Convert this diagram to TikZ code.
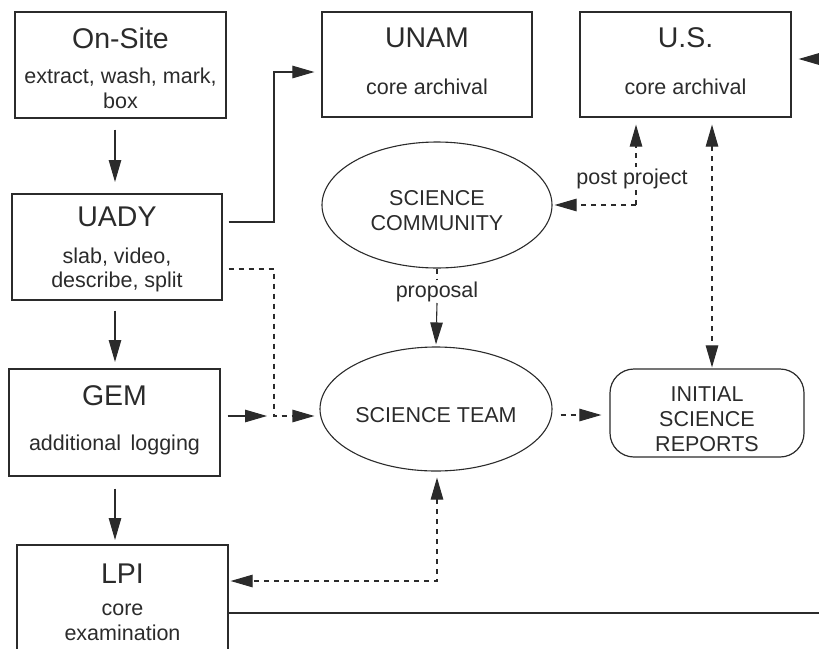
\documentclass[tikz,border=0pt]{standalone}
\usepackage{fontspec}
\setmainfont{Liberation Sans}
\usetikzlibrary{arrows.meta,shapes.geometric,calc}
\definecolor{ink}{HTML}{2B2B2B}
\begin{document}
\begin{tikzpicture}[x=1pt,y=-1pt,
  box/.style={draw=ink,line width=1.2pt,rectangle,inner sep=0pt},
  rbox/.style={draw=ink,line width=1.2pt,rectangle,rounded corners=24pt,inner sep=0pt},
  oval/.style={draw=ink,line width=1.1pt,ellipse,inner sep=0pt},
  ttl/.style={anchor=base,font=\fontsize{28.5}{30}\selectfont,text=ink,inner sep=0pt},
  sub/.style={anchor=base,font=\fontsize{21.5}{24}\selectfont,text=ink,inner sep=0pt},
  conn/.style={draw=ink,line width=1.1pt,-{Triangle[length=22pt,width=12.5pt]}},
  dconn/.style={conn,dash pattern=on 5pt off 5pt},
  ddconn/.style={dconn,{Triangle[length=22pt,width=12.5pt]}-{Triangle[length=22pt,width=12.5pt]}},
  plain/.style={draw=ink,line width=1.1pt},
  dplain/.style={plain,dash pattern=on 5pt off 5pt}]
\useasboundingbox (0,0) rectangle (819,648);

% boxes
\node[box,minimum width=211pt,minimum height=106pt] (onsite) at (120.5,65) {};
\node[box,minimum width=210pt,minimum height=106pt] (uady) at (117,247) {};
\node[box,minimum width=211pt,minimum height=107pt] (gem) at (114.5,422.5) {};
\node[box,minimum width=211pt,minimum height=130pt] (lpi) at (122.5,610) {};
\node[box,minimum width=210pt,minimum height=105pt] (unam) at (427,64.5) {};
\node[box,minimum width=211pt,minimum height=105pt] (us) at (685.5,64.5) {};
\node[rbox,minimum width=194pt,minimum height=88pt] (isr) at (707,413) {};
\node[oval,minimum width=230pt,minimum height=126pt] (sc) at (437,205) {};
\node[oval,minimum width=232pt,minimum height=124pt] (st) at (436,409) {};

% texts
\node[ttl] (onsiteT) at (120.5,48) {On-Site};
\node[sub] (onsiteA) at (120.5,83) {extract, wash, mark,};
\node[sub] (onsiteB) at (120.5,108) {box};
\node[ttl] (uadyT) at (117,226) {UADY};
\node[sub] (uadyA) at (117,263) {slab, video,};
\node[sub] (uadyB) at (117,287) {describe, split};
\node[ttl] (gemT) at (114.5,405) {GEM};
\node[sub] (gemA) at (114.5,450) {additional\, logging};
\node[ttl] (lpiT) at (122.5,583) {LPI};
\node[sub] (lpiA) at (122.5,615) {core};
\node[sub] (lpiB) at (122.5,640) {examination};
\node[ttl] (unamT) at (427,47) {UNAM};
\node[sub] (unamA) at (427,94) {core archival};
\node[ttl] (usT) at (685.5,47) {U.S.};
\node[sub] (usA) at (685.5,94) {core archival};
\node[sub] (isrA) at (707,401) {INITIAL};
\node[sub] (isrB) at (707,426) {SCIENCE};
\node[sub] (isrC) at (707,451) {REPORTS};
\node[sub] (scA) at (437,205) {SCIENCE};
\node[sub] (scB) at (437,230) {COMMUNITY};
\node[sub] (stA) at (436,422) {SCIENCE TEAM};

% helper coordinates
\coordinate (c1) at (274,222);
\coordinate (c2) at (274,72);
\coordinate (d1) at (274,269);
\coordinate (d2) at (274,416);
\coordinate (pp) at (636,205);
\coordinate (lc) at (437,581);
\coordinate (gemend) at (267,416);
\coordinate (rin) at (819,59);
\coordinate (rout) at (819,613);

% connectors
\draw[conn] (onsite.south -| 115,0) ++(0,11) -- (115,182);
\draw[conn] (uady.south -| 115,0) ++(0,10) -- (115,362);
\draw[conn] (gem.south -| 115,0) ++(0,12) -- (115,540);
\draw[conn] (uady.east |- c1) ++(6,0) -- (c1) -- (c2) -- ($(unam.west |- c2)+(-7,0)$);
\draw[dconn] (uady.east |- d1) ++(6,0) -- (d1) -- (d2) -- ($(st.west |- d2)+(-5,0)$);
\draw[conn] (gem.east |- gemend) ++(7,0) -- (gemend);
\draw[dconn] ($(st.east |- 0,415)+(8,0)$) -- ($(isr.west |- 0,415)+(-8,0)$);
\draw[dconn] (pp) -- ($(sc.east |- pp)+(2,0)$);
\draw[dplain] (pp) -- (636,188);
\draw[dconn] (636,168) -- ($(us.south -| 636,0)+(0,7)$);
\node[sub,fill=white,inner sep=1pt] (ppL) at (632,184) {post project};
\draw[ddconn] ($(us.south -| 712,0)+(0,7)$) -- ($(isr.north -| 712,0)+(-0,-1)$);
\draw[dplain] (sc.south) -- (437,280);
\node[sub] (propL) at (437,297) {proposal};
\draw[conn] (437,303) -- ($(st.north)+(0,-2)$);
\draw[ddconn] ($(st.south)+(1,6)$) -- (lc) -- ($(lpi.east |- lc)+(2,0)$);
\draw[plain] (lpi.east |- rout) -- (rout);
\draw[conn] (rin) -- ($(us.east |- rin)+(7,0)$);
\end{tikzpicture}
\end{document}
